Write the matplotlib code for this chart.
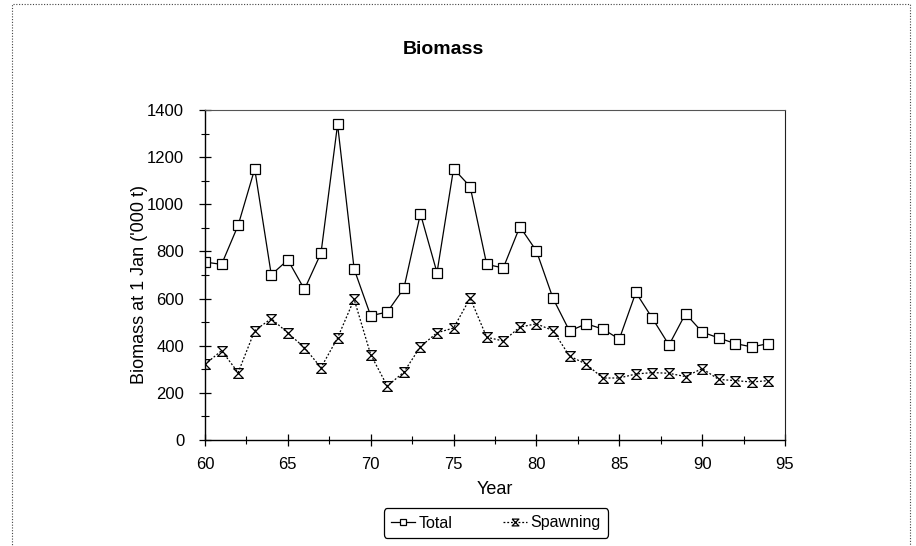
import matplotlib
matplotlib.use('Agg')
import matplotlib.pyplot as plt
from matplotlib.patches import Rectangle
from matplotlib.ticker import MultipleLocator

years = list(range(60, 95))
total = [755, 745, 911, 1150, 701, 764, 639, 793, 1339, 725,
         527, 543, 643, 960, 710, 1151, 1075, 745, 730, 905,
         802, 601, 462, 493, 471, 428, 626, 516, 403, 536,
         458, 433, 409, 395, 409]
spawning = [321, 379, 286, 464, 515, 454, 392, 307, 433, 597,
            362, 229, 288, 396, 455, 475, 602, 436, 420, 479,
            493, 464, 356, 322, 263, 263, 280, 286, 283, 269,
            303, 257, 252, 246, 252]

plt.rcParams['font.family'] = ['Liberation Sans', 'DejaVu Sans']

# hourglass marker used for the spawning series
hourglass = [(-1, 1), (1, 1), (-1, -1), (1, -1), (-1, 1)]

fig = plt.figure(figsize=(9.16, 5.46), dpi=100)
# dotted outer frame (bottom edge falls off the image)
fig.patches.append(Rectangle((12 / 916, -0.01), 898 / 916, 1.0 - 4 / 546 + 0.01,
                             transform=fig.transFigure, fill=False,
                             linestyle=(0, (1, 1.5)), linewidth=0.8,
                             edgecolor='#444444'))

ax = fig.add_axes([205 / 916, 1 - 440 / 546, 580 / 916, 330 / 546])
ax.plot(years, total, color='black', linewidth=0.9, marker='s', markersize=7,
        markerfacecolor='white', markeredgecolor='black', markeredgewidth=0.9,
        label='Total')
ax.plot(years, spawning, color='black', linewidth=0.9, linestyle=(0, (1.5, 1.5)),
        marker=hourglass, markersize=7, markerfacecolor='none',
        markeredgecolor='black', markeredgewidth=0.9, label='Spawning')

ax.set_xlim(60, 95)
ax.set_ylim(0, 1400)
ax.xaxis.set_major_locator(MultipleLocator(5))
ax.xaxis.set_minor_locator(MultipleLocator(2.5))
ax.yaxis.set_major_locator(MultipleLocator(200))
ax.yaxis.set_minor_locator(MultipleLocator(100))
ax.tick_params(which='major', direction='inout', length=8, width=0.9,
               labelsize=12)
ax.tick_params(axis='y', which='major', pad=11)
ax.tick_params(axis='x', which='major', pad=8)
ax.tick_params(which='minor', direction='inout', length=6, width=0.8)

for side in ['left', 'bottom']:
    ax.spines[side].set_linewidth(1.0)
ax.spines['top'].set_color('#555555')
ax.spines['top'].set_linewidth(0.8)
ax.spines['right'].set_color('#222222')
ax.spines['right'].set_linewidth(0.8)

fig.text(443 / 916, 1 - 49 / 546, 'Biomass', ha='center', va='center',
         fontsize=14, fontweight='bold')
fig.text(139 / 916, 1 - 285 / 546, "Biomass at 1 Jan ('000 t)", ha='center',
         va='center', rotation=90, fontsize=13)
fig.text(495 / 916, 1 - 489 / 546, 'Year', ha='center', va='center',
         fontsize=13)

leg = fig.legend(loc='center', bbox_to_anchor=(496 / 916, 1 - 523 / 546), ncol=2,
                 fancybox=True, edgecolor='black', framealpha=1, fontsize=11.5,
                 handlelength=1.5, columnspacing=3.2, borderpad=0.45,
                 handletextpad=0.2, markerscale=0.7)
leg.get_frame().set_linewidth(0.9)

fig.savefig('out.png', dpi=100)
